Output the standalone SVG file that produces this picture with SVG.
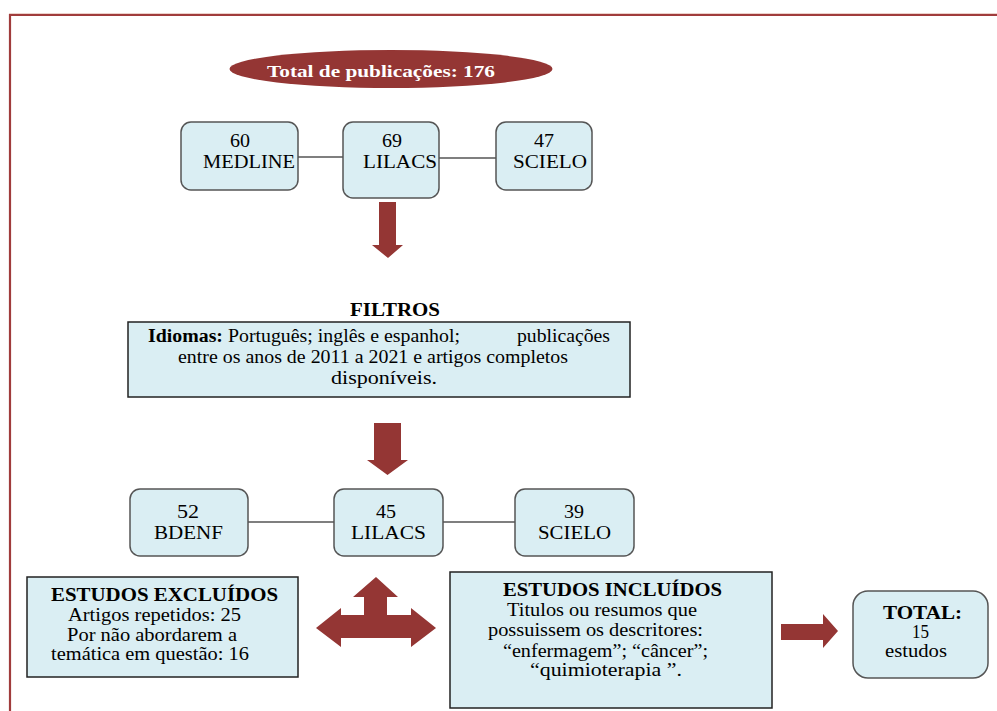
<svg xmlns="http://www.w3.org/2000/svg" width="997" height="711" viewBox="0 0 997 711">
<style>
  text { font-family: "Liberation Serif", "Times New Roman", serif; fill: #000; }
  .t { font-size: 19px; }
  .s { font-size: 18px; }
  .f { font-size: 18px; }
  .b { font-weight: bold; }
  .box { fill: #daeef3; stroke: #555; stroke-width: 1.5; }
  .sq { fill: #daeef3; stroke: #222; stroke-width: 1.5; }
  .arrow { fill: #943634; }
  .conn { stroke: #555; stroke-width: 1.5; fill: none; }
</style>
<rect width="997" height="711" fill="#fff"/>
<g id="frame">
  <line x1="9" y1="13.5" x2="997" y2="13.5" stroke="#ecd2cc" stroke-width="1"/>
  <line x1="10" y1="15" x2="997" y2="15" stroke="#a03c3c" stroke-width="2.2"/>
  <line x1="10" y1="14" x2="10" y2="711" stroke="#a03c3c" stroke-width="2.2"/>
</g>
<g id="total-publicacoes">
  <ellipse cx="391" cy="69" rx="161.5" ry="19" fill="#943634"/>
  <text x="267" y="77" font-size="16" class="b" style="fill:#fff" textLength="228" lengthAdjust="spacingAndGlyphs">Total de publicações:  176</text>
</g>
<g id="connectors">
  <line class="conn" x1="298" y1="157" x2="343" y2="157"/>
  <line class="conn" x1="439" y1="158" x2="496" y2="158"/>
  <line class="conn" x1="248" y1="522" x2="334" y2="522"/>
  <line class="conn" x1="443" y1="522" x2="515" y2="522"/>
  <polygon id="arrow1" class="arrow" points="379,202 396,202 396,245 403,245 388,258 372,245 379,245"/>
  <polygon id="arrow2" class="arrow" points="374,423 401,423 401,460 408,460 387.5,475 367,460 374,460"/>
  <polygon id="arrow3" class="arrow" points="316,628 341,608 341,615 364,615 364,597 353,597 376,577 398,597 387,597 387,615 411,615 411,608 436,628 411,647 411,638 341,638 341,647"/>
  <polygon id="arrow4" class="arrow" points="781,624 823,624 823,614 838,631 823,648 823,640 781,640"/>
</g>
<g id="medline">
  <rect class="box" x="181" y="122" width="117" height="68" rx="10"/>
  <text class="s" x="230" y="147" textLength="20" lengthAdjust="spacingAndGlyphs">60</text>
  <text class="s" x="203" y="168" textLength="92" lengthAdjust="spacingAndGlyphs">MEDLINE</text>
</g>
<g id="lilacs1">
  <rect class="box" x="343" y="122" width="96" height="76" rx="10"/>
  <text class="s" x="382" y="147" textLength="20" lengthAdjust="spacingAndGlyphs">69</text>
  <text class="s" x="363" y="168" textLength="74" lengthAdjust="spacingAndGlyphs">LILACS</text>
</g>
<g id="scielo1">
  <rect class="box" x="496" y="122" width="96" height="68" rx="10"/>
  <text class="s" x="534" y="147" textLength="20" lengthAdjust="spacingAndGlyphs">47</text>
  <text class="s" x="513" y="168" textLength="74" lengthAdjust="spacingAndGlyphs">SCIELO</text>
</g>
<g id="filtros">
  <text class="t b" x="350" y="316" textLength="90" lengthAdjust="spacingAndGlyphs">FILTROS</text>
  <rect class="sq" x="128" y="322" width="502" height="75"/>
  <text class="f" x="148" y="342" textLength="312" lengthAdjust="spacingAndGlyphs"><tspan class="b">Idiomas:</tspan> Português; inglês e espanhol;</text>
  <text class="f" x="517" y="342" textLength="93" lengthAdjust="spacingAndGlyphs">publicações</text>
  <text class="f" x="178" y="363" textLength="390" lengthAdjust="spacingAndGlyphs">entre os anos de 2011 a 2021 e artigos completos</text>
  <text class="f" x="331" y="384" textLength="106" lengthAdjust="spacingAndGlyphs">disponíveis.</text>
</g>
<g id="bdenf">
  <rect class="box" x="130" y="489" width="118" height="67" rx="10"/>
  <text class="t" x="177" y="518" textLength="22" lengthAdjust="spacingAndGlyphs">52</text>
  <text class="t" x="154" y="539" textLength="69" lengthAdjust="spacingAndGlyphs">BDENF</text>
</g>
<g id="lilacs2">
  <rect class="box" x="334" y="489" width="109" height="67" rx="10"/>
  <text class="t" x="376" y="518" textLength="20" lengthAdjust="spacingAndGlyphs">45</text>
  <text class="t" x="351" y="539" textLength="75" lengthAdjust="spacingAndGlyphs">LILACS</text>
</g>
<g id="scielo2">
  <rect class="box" x="515" y="489" width="119" height="67" rx="10"/>
  <text class="t" x="564" y="518" textLength="20" lengthAdjust="spacingAndGlyphs">39</text>
  <text class="t" x="538" y="539" textLength="73" lengthAdjust="spacingAndGlyphs">SCIELO</text>
</g>
<g id="excluidos">
  <rect class="sq" x="27" y="577" width="271" height="100"/>
  <text class="t b" x="51" y="601" textLength="227" lengthAdjust="spacingAndGlyphs">ESTUDOS EXCLUÍDOS</text>
  <text class="t" x="68" y="621" textLength="173" lengthAdjust="spacingAndGlyphs">Artigos repetidos: 25</text>
  <text class="t" x="67" y="641" textLength="170" lengthAdjust="spacingAndGlyphs">Por não abordarem  a</text>
  <text class="t" x="51" y="660" textLength="198" lengthAdjust="spacingAndGlyphs">temática em  questão: 16</text>
</g>
<g id="incluidos">
  <rect class="sq" x="450" y="572" width="322" height="136"/>
  <text class="t b" x="503" y="596" textLength="219" lengthAdjust="spacingAndGlyphs">ESTUDOS INCLUÍDOS</text>
  <text class="t" x="507" y="616" textLength="190" lengthAdjust="spacingAndGlyphs">Titulos ou resumos que</text>
  <text class="t" x="488" y="636" textLength="215" lengthAdjust="spacingAndGlyphs">possuissem  os descritores:</text>
  <text class="t" x="503" y="657" textLength="205" lengthAdjust="spacingAndGlyphs">“enfermagem”; “câncer”;</text>
  <text class="t" x="530" y="676" textLength="152" lengthAdjust="spacingAndGlyphs">“quimioterapia ”.</text>
</g>
<g id="total">
  <rect class="box" x="853" y="591" width="135" height="87" rx="15"/>
  <text class="t b" x="883" y="619" textLength="79" lengthAdjust="spacingAndGlyphs">TOTAL:</text>
  <text class="t" x="912" y="638" textLength="17" lengthAdjust="spacingAndGlyphs">15</text>
  <text class="t" x="885" y="657" textLength="62" lengthAdjust="spacingAndGlyphs">estudos</text>
</g>
</svg>
